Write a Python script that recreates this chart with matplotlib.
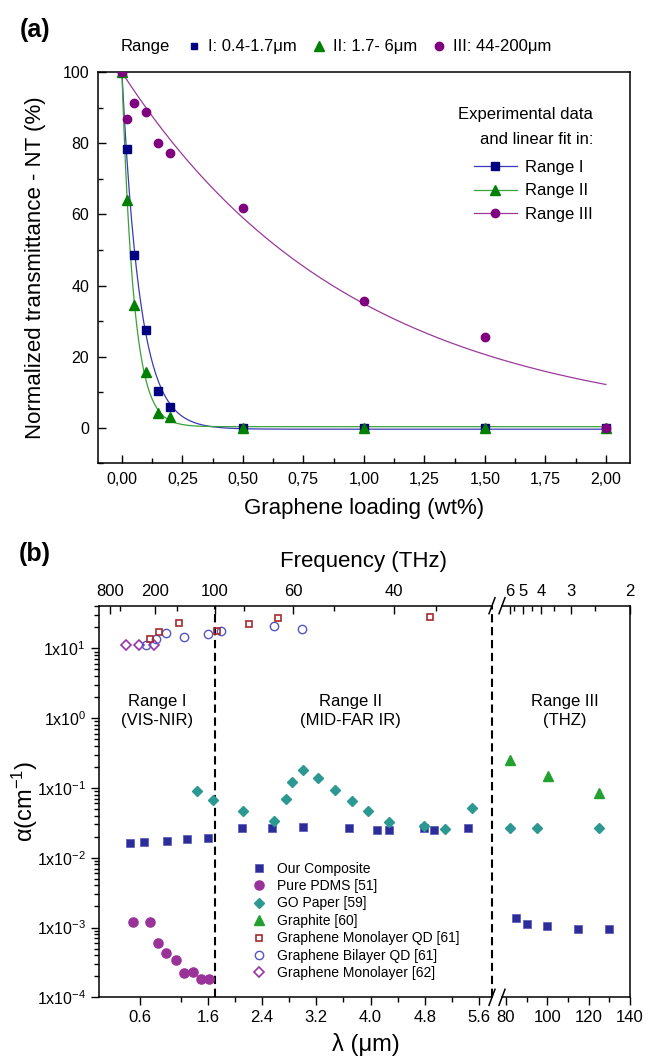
import numpy as np
import matplotlib
matplotlib.use('Agg')
from matplotlib import pyplot as plt
from matplotlib.lines import Line2D
from matplotlib.ticker import FuncFormatter, FixedLocator, LogLocator, NullFormatter

plt.rcParams['font.family'] = ['Liberation Sans', 'DejaVu Sans']
plt.rcParams['mathtext.default'] = 'regular'

# ---------------- panel (a) data ----------------
loading = [0, 0.02, 0.05, 0.1, 0.15, 0.2, 0.5, 1.0, 1.5, 2.0]
nt_I = [100, 78.5, 48.5, 27.4, 10.2, 5.8, 0, 0, 0, 0]
nt_II = [100, 64.0, 34.4, 15.7, 4.1, 3.0, 0, 0, 0, 0]
nt_III = [100, 86.8, 91.4, 88.9, 80.0, 77.2, 61.7, 35.8, 25.5, 0]

# exponential decay fits: (A, t, y0)
fit_I = (100.4, 0.075, -0.4)
fit_II = (99.7, 0.049, 0.3)
fit_III = (100.0, 0.95, 0.0)

top_labels = ['I: 0.4-1.7\u03bcm', 'II: 1.7- 6\u03bcm', 'III: 44-200\u03bcm']
fit_labels = ['Range I', 'Range II', 'Range III']

# ---------------- panel (b) data ----------------
comp_lam = [0.45, 0.66, 1.0, 1.3, 1.61, 2.11, 2.55, 3.0, 3.68, 4.1, 4.28, 4.79, 4.93, 5.44]
comp_a = [0.0163, 0.0168, 0.0174, 0.0184, 0.0194, 0.027, 0.027, 0.0275, 0.027, 0.0247,
          0.0247, 0.027, 0.0253, 0.0267]
comp_lam_thz = [85, 90, 100, 115, 130]
comp_a_thz = [1.36e-3, 1.14e-3, 1.04e-3, 0.96e-3, 0.96e-3]

pdms_lam = [0.5, 0.75, 0.87, 0.99, 1.13, 1.25, 1.38, 1.5, 1.62]
pdms_a = [1.2e-3, 1.2e-3, 6.0e-4, 4.3e-4, 3.45e-4, 2.2e-4, 2.3e-4, 1.85e-4, 1.85e-4]

go_lam = [1.44, 1.68, 2.12, 2.57, 2.76, 2.84, 3.01, 3.23, 3.48, 3.72, 3.96, 4.27, 4.79, 5.10, 5.49]
go_a = [0.09, 0.067, 0.046, 0.034, 0.07, 0.12, 0.18, 0.139, 0.093, 0.065, 0.047, 0.033,
        0.028, 0.0255, 0.051]
go_lam_thz = [82, 95.2, 125.2]
go_a_thz = [0.0267, 0.0267, 0.0267]

graphite_lam_thz = [82, 100.2, 125.2]
graphite_a_thz = [0.249, 0.149, 0.085]

monoqd_lam = [0.75, 0.88, 1.17, 1.73, 2.21, 2.64, 4.88]
monoqd_a = [13.5, 17.3, 23.3, 17.7, 22.3, 26.9, 28.4]

biqd_lam = [0.69, 0.84, 0.99, 1.25, 1.61, 1.80, 2.58, 2.99]
biqd_a = [11.1, 13.5, 16.7, 14.3, 16.2, 17.9, 21.2, 18.9]

mono_lam = [0.40, 0.59, 0.81]
mono_a = [11.1, 11.1, 11.1]

lam_ticks_left = [0.6, 1.6, 2.4, 3.2, 4.0, 4.8, 5.6]
lam_ticks_right = [80, 100, 120, 140]
freq_labels_left = ['800', '200', '100', '60', '40']
freq_pos_left = [0.16, 0.82, 1.70, 2.86, 4.34]
freq_minor_left = [0.305, 1.14, 2.13, 3.46, 4.97]
freq_labels_right = ['6', '5', '4', '3', '2']
freq_pos_right = [82.0, 88.2, 96.9, 111.4, 140]
freq_minor_right = [84.0, 92.5, 103.3, 123.1]

W, H = 646, 1059
fig = plt.figure(figsize=(W / 100, H / 100), dpi=100)

def fx(px):
    return px / W

def fy(py):
    return 1 - py / H

# ================= panel (a) =================
axa = fig.add_axes([fx(97.7), fy(463.3), fx(630) - fx(97.7), fy(72.3) - fy(463.3)])
xs = np.linspace(0, 2.0, 400)
cols_m = ['#000080', '#008000', '#800080']
cols_l = ['#3a3ab8', '#3aa03a', '#9a3a9a']
marks = ['s', '^', 'o']
msz = [5.4, 7.0, 6.0]
for (A, t, y0), cl in zip([fit_I, fit_II, fit_III], cols_l):
    axa.plot(xs, y0 + A * np.exp(-xs / t), color=cl, lw=0.9, zorder=2)
for ys, cm, mk, ms in zip([nt_I, nt_II, nt_III], cols_m, marks, msz):
    axa.plot(loading, ys, ls='none', marker=mk, ms=ms, color=cm, zorder=3)

axa.set_xlim(-0.1, 2.1)
axa.set_ylim(-10, 100)
axa.xaxis.set_major_locator(FixedLocator(np.arange(0, 2.01, 0.25)))
axa.xaxis.set_minor_locator(FixedLocator(np.arange(0.125, 2.0, 0.25)))
axa.yaxis.set_major_locator(FixedLocator(np.arange(0, 101, 20)))
axa.yaxis.set_minor_locator(FixedLocator(np.arange(-10, 100, 20)))
axa.xaxis.set_major_formatter(FuncFormatter(lambda v, p: f'{v:.2f}'.replace('.', ',')))
axa.tick_params(which='both', direction='in', top=False, right=False, width=1, labelsize=11.5)
axa.tick_params(which='major', length=6, pad=6)
axa.tick_params(which='minor', length=3.5)
for s in axa.spines.values():
    s.set_linewidth(1.1)
axa.set_xlabel('Graphene loading (wt%)', fontsize=16, labelpad=8)
axa.set_ylabel('Normalized transmittance - NT (%)', fontsize=16, labelpad=12)

# legend above the axes
fig.text(fx(121), fy(47), 'Range', fontsize=12, va='center', ha='left')
top_handles = [Line2D([], [], ls='none', marker=mk, ms=ms, color=cm)
               for cm, mk, ms in zip(cols_m, marks, [5, 6.5, 6])]
fig.legend(top_handles, top_labels, loc='center left', bbox_to_anchor=(fx(189), fy(47)),
           ncol=3, frameon=False, fontsize=12, handlelength=0.6, handletextpad=0.55,
           columnspacing=1.0, borderpad=0, borderaxespad=0)

# fit legend inside panel (a)
fig.text(fx(593), fy(127), 'Experimental data\nand linear fit in:', fontsize=12,
         ha='right', va='center', multialignment='right', linespacing=1.75)
fit_handles = [Line2D([], [], color=cl, lw=0.9, marker=mk, ms=ms, mfc=cm, mec=cm)
               for cl, cm, mk, ms in zip(cols_l, cols_m, marks, msz)]
fig.legend(fit_handles, fit_labels, loc='upper right', bbox_to_anchor=(fx(593), fy(160)),
           frameon=False, fontsize=12, handlelength=2.6, handletextpad=0.5,
           labelspacing=0.5, borderpad=0, borderaxespad=0)

fig.text(fx(35), fy(30), '(a)', fontsize=18, fontweight='bold', ha='center', va='center')

# ================= panel (b) =================
bl, br1, br2, brr = 99.3, 492.0, 502.0, 630.0
btop, bbot = 605.7, 997.3
axl = fig.add_axes([fx(bl), fy(bbot), fx(br1) - fx(bl), fy(btop) - fy(bbot)])
axr = fig.add_axes([fx(br2), fy(bbot), fx(brr) - fx(br2), fy(btop) - fy(bbot)])

ylo, yhi = 1e-4, 40.8
px_per_um_l = 67.8
px_per_um_r = 2.07
axl.set_xlim(0, (br1 - bl) / px_per_um_l)
axr.set_xlim(140 - (brr - br2) / px_per_um_r, 140)
for ax in (axl, axr):
    ax.set_yscale('log')
    ax.set_ylim(ylo, yhi)

c_comp = '#2d2d9a'
c_pdms = '#9a3399'
c_go = '#2b9892'
c_graph = '#22a030'
c_monoqd = '#a52a2a'
c_biqd = '#5555c8'
c_mono = '#9933aa'

st_comp = dict(ls='none', marker='s', ms=5.8, color=c_comp, mec='#5555bb', mew=0.5)
st_pdms = dict(ls='none', marker='o', ms=6.6, color=c_pdms, mec=c_pdms)
st_go = dict(ls='none', marker='D', ms=5.2, color=c_go, mec=c_go)
st_graph = dict(ls='none', marker='^', ms=7.5, color=c_graph, mec=c_graph)
st_monoqd = dict(ls='none', marker='s', ms=5.0, mfc='none', mec=c_monoqd, mew=1.2)
st_biqd = dict(ls='none', marker='o', ms=6.0, mfc='none', mec=c_biqd, mew=1.0)
st_mono = dict(ls='none', marker='D', ms=5.0, mfc='none', mec=c_mono, mew=1.2)

axl.plot(mono_lam, mono_a, **st_mono)
axl.plot(biqd_lam, biqd_a, **st_biqd)
axl.plot(monoqd_lam, monoqd_a, **st_monoqd)
axl.plot(comp_lam, comp_a, **st_comp)
axl.plot(pdms_lam, pdms_a, **st_pdms)
axl.plot(go_lam, go_a, **st_go)
axr.plot(comp_lam_thz, comp_a_thz, **st_comp)
axr.plot(go_lam_thz, go_a_thz, **st_go)
axr.plot(graphite_lam_thz, graphite_a_thz, **st_graph)

# range boundaries
axl.axvline(1.7, color='k', lw=1.5, ls=(0, (4, 2.2)), zorder=1)
axl.axvline((br1 - bl) / px_per_um_l - 0.005, color='k', lw=1.5, ls=(0, (4, 2.2)),
            zorder=1, clip_on=False)

axl.text(0.85, 1.27, 'Range I\n(VIS-NIR)', ha='center', va='center', fontsize=12,
         linespacing=1.3)
axl.text(3.70, 1.27, 'Range II\n(MID-FAR IR)', ha='center', va='center', fontsize=12,
         linespacing=1.3)
axr.text(108.6, 1.27, 'Range III\n(THZ)', ha='center', va='center', fontsize=12,
         linespacing=1.3)

# axes styling
axl.spines['right'].set_visible(False)
axr.spines['left'].set_visible(False)
for ax in (axl, axr):
    for s in ax.spines.values():
        s.set_linewidth(1.1)
axl.xaxis.set_major_locator(FixedLocator(lam_ticks_left))
axl.xaxis.set_minor_locator(FixedLocator([1.2, 2.0, 2.8, 3.6, 4.4, 5.2]))
axl.xaxis.set_major_formatter(FuncFormatter(lambda v, p: f'{v:.1f}'))
axr.xaxis.set_major_locator(FixedLocator(lam_ticks_right))
axr.xaxis.set_minor_locator(FixedLocator([90, 110, 130]))
axl.yaxis.set_major_locator(LogLocator(base=10, numticks=10))
axl.yaxis.set_minor_locator(LogLocator(base=10, subs=np.arange(2, 10), numticks=10))
axl.yaxis.set_minor_formatter(NullFormatter())
axl.yaxis.set_major_formatter(FuncFormatter(
    lambda v, p: '1x10$^{%d}$' % int(round(np.log10(v)))))
axl.tick_params(which='both', direction='out', width=1, top=False, right=False)
axl.tick_params(axis='x', labelsize=12)
axl.tick_params(axis='y', labelsize=11.5)
axl.tick_params(which='major', length=6)
axl.tick_params(which='minor', length=3.5)
axr.tick_params(which='both', direction='out', width=1, top=False, left=False, right=False,
                labelleft=False)
axr.tick_params(which='minor', axis='y', left=False)
axr.tick_params(axis='x', labelsize=12)
axr.tick_params(which='major', length=6)
axr.tick_params(which='minor', length=3.5)

# frequency axes on top
for ax, pos, labs, minor in [(axl, freq_pos_left, freq_labels_left, freq_minor_left),
                             (axr, freq_pos_right, freq_labels_right, freq_minor_right)]:
    tw = ax.twiny()
    tw.set_xlim(ax.get_xlim())
    tw.set_xticks(pos)
    tw.set_xticklabels(labs)
    tw.xaxis.set_minor_locator(FixedLocator(minor))
    tw.tick_params(which='both', direction='in', width=1, labelsize=12, pad=5)
    tw.tick_params(which='major', length=6)
    tw.tick_params(which='minor', length=3.5)
    for s in tw.spines.values():
        s.set_visible(False)

# axis break marks
for yb in (btop, bbot):
    for xc in (br1, br2):
        fig.add_artist(Line2D([fx(xc - 3), fx(xc + 3)], [fy(yb + 8), fy(yb - 8)],
                              color='k', lw=1.1))

# legend of panel (b)
leg_handles = [Line2D([], [], **st) for st in
               [st_comp, st_pdms, st_go, st_graph, st_monoqd, st_biqd, st_mono]]
leg_labels = ['Our Composite', 'Pure PDMS [51]', 'GO Paper [59]', 'Graphite [60]',
              'Graphene Monolayer QD [61]', 'Graphene Bilayer QD [61]',
              'Graphene Monolayer [62]']
fig.legend(leg_handles, leg_labels, loc='upper left', bbox_to_anchor=(fx(253), fy(861.5)),
           frameon=False, fontsize=10, handlelength=0.8, handletextpad=0.95,
           labelspacing=0.25, borderpad=0, borderaxespad=0)

fig.text(fx(364), fy(562), 'Frequency (THz)', fontsize=16, ha='center', va='center')
fig.text(fx(366), fy(1044), '\u03bb (\u03bcm)', fontsize=17, ha='center', va='center')
fig.text(fx(25), fy(801.5), '\u03b1(cm$^{-1}$)', fontsize=17, ha='center', va='center',
         rotation=90)
fig.text(fx(35), fy(554), '(b)', fontsize=18, fontweight='bold', ha='center', va='center')

fig.savefig('out.png', dpi=100)
